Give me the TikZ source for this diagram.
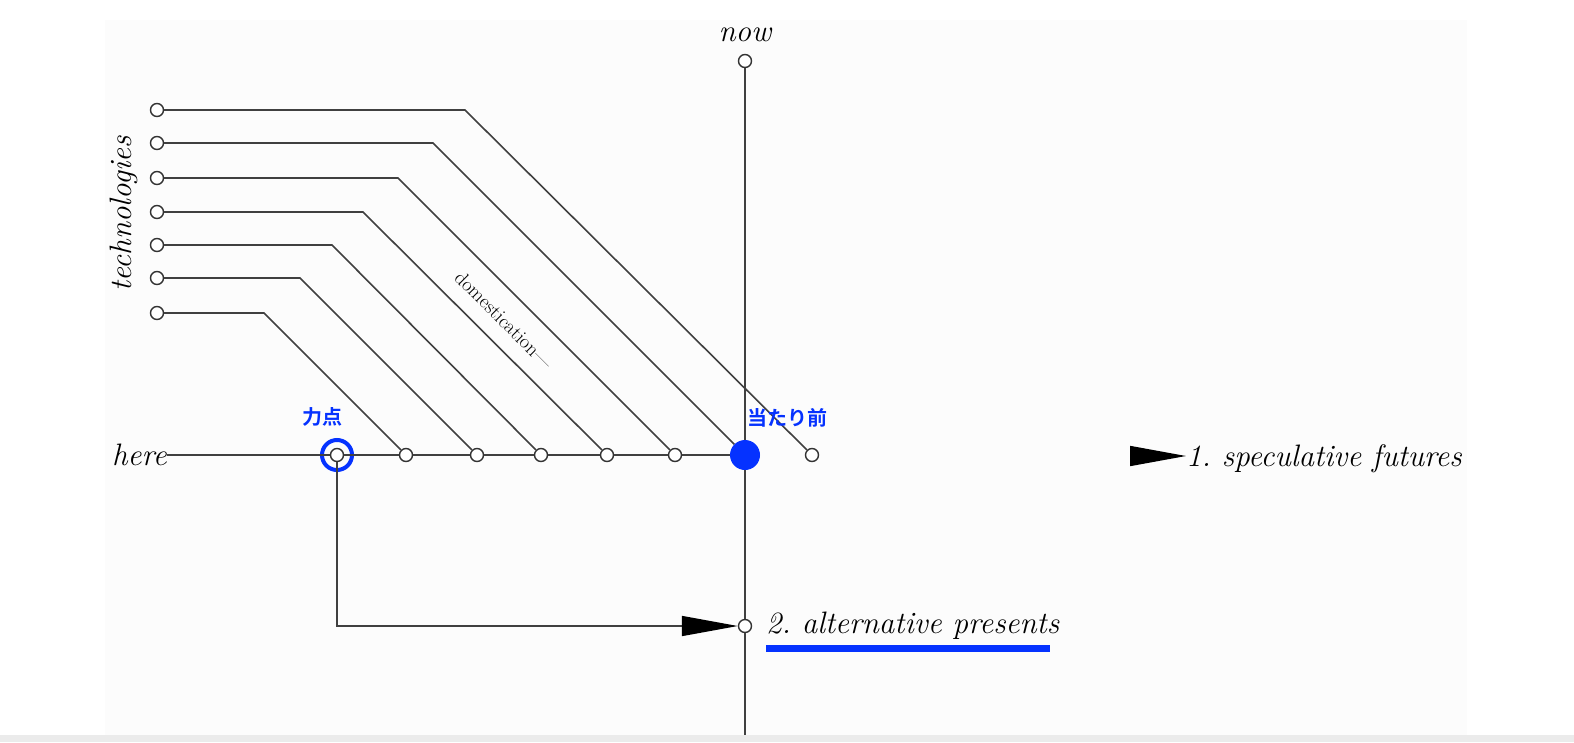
\documentclass[tikz,border=0pt]{standalone}
\usepackage{fontspec}
\newfontfamily\jpfont[BoldFont={Noto Sans CJK JP Bold}]{Noto Sans CJK JP}
\usetikzlibrary{arrows.meta, positioning}
\definecolor{hiblue}{RGB}{5,50,255}
\frenchspacing

\begin{document}
\begin{tikzpicture}[x=1pt,y=-1pt]

\tikzset{dot/.style = {shape=circle,draw=black!80,fill=white,line width=1.4pt,inner sep=0pt,minimum size=13pt}}
\tikzset{wire/.style = {draw=black!75,line width=1.6pt}}
\tikzset{pointer/.style = {wire,-{Triangle[length=56pt,width=20pt,color=black]}}}
\tikzset{word/.style = {font=\fontsize{31}{31}\selectfont\itshape,inner sep=0pt}}
\tikzset{jp/.style = {font=\jpfont\bfseries\fontsize{20}{20}\selectfont,text=hiblue,inner sep=0pt}}

%frame
\useasboundingbox (0,0) rectangle (1574,742);
\fill[black!1] (105,20) rectangle (1467,735);
\fill[black!8] (0,735) rectangle (1574,742);

%now axis
\node[dot] (now) at (745,61) {};
\node[word, anchor=base] (nowlbl) at (745,41) {now};
\node[circle,fill=hiblue,inner sep=0pt,minimum size=30pt] (norm) at (745,455) {};
\node[dot] (alt) at (745,626) {};
\coordinate (bot) at (745,735);
\draw[wire] (now) -- (norm) -- (alt) -- (bot);

%here axis
\node[word, anchor=east] (here) at (167,455) {here};
\node[dot] (p) at (337,455) {};
\node[circle,draw=hiblue,line width=4pt,inner sep=0pt,minimum size=30pt] (ring) at (p) {};
\foreach \i/\x in {1/406, 2/477, 3/541, 4/607, 5/675}
  \node[dot] (h\i) at (\x,455) {};
\node[dot] (far) at (812,455) {};
\draw[wire] (here) -- (p) -- (h1) -- (h2) -- (h3) -- (h4) -- (h5) -- (norm);

%technologies
\foreach \i/\y/\bx/\e in {1/313/264/h1, 2/278/300/h2, 3/245/332/h3, 4/212/363/h4, 5/178/398/h5, 6/143/433/norm, 7/110/465/far}{
  \node[dot] (t\i) at (157,\y) {};
  \coordinate (b\i) at (\bx,\y);
  \draw[wire] (t\i) -- (b\i) -- (\e);
}
\node[word, rotate=90] (tech) at (124,214) {technologies};
\node[font=\fontsize{20}{20}\selectfont, rotate=-45, inner sep=0pt] (dom) at (504,320) {domestication---};

%labels
\node[jp] (force) at (322,417) {力点};
\node[jp] (usual) at (787,418) {当たり前};

%outcomes
\node[word, anchor=base west] (alttxt) at (766,633) {2. alternative presents};
\fill[hiblue] (766,645) rectangle (1050,652);
\draw[pointer] (p) |- (alt);
\node[word, anchor=base west] (spec) at (1186,466) {1. speculative futures};
\coordinate (sfa) at (1130,456);
\draw[pointer] (sfa) -- (sfa -| spec.west);

\end{tikzpicture}
\end{document}
